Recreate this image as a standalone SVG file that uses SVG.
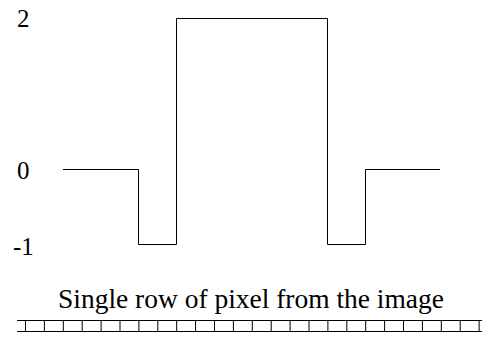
<svg xmlns="http://www.w3.org/2000/svg" width="482" height="341" viewBox="0 0 482 341">
<style>
.t{font-family:"Liberation Serif","Times New Roman",serif;fill:#000}
.ln{fill:none;stroke:#000;stroke-width:1}
</style>
<rect width="482" height="341" fill="#fff"/>
<g id="axis-labels">
<text class="t" x="17" y="26.5" font-size="25">2</text>
<text class="t" x="17" y="178.5" font-size="25">0</text>
<text class="t" x="13" y="254.5" font-size="25">-1</text>
</g>
<g id="signal">
<path class="ln" d="M63,169.5 H138.5 V244.5 H176.5 V18.5 H327.5 V244.5 H365.5 V169.5 H440"/>
</g>
<g id="pixel-row">
<text class="t" x="58" y="308" font-size="27" textLength="386" lengthAdjust="spacingAndGlyphs">Single row of pixel from the image</text>
<path class="ln" d="M17,320.5 H482 M17,331.5 H482 M25.5,320 V332 M44.4,320 V332 M63.3,320 V332 M82.2,320 V332 M101.1,320 V332 M120,320 V332 M138.9,320 V332 M157.8,320 V332 M176.7,320 V332 M195.6,320 V332 M214.5,320 V332 M233.4,320 V332 M252.3,320 V332 M271.2,320 V332 M290.1,320 V332 M309,320 V332 M327.9,320 V332 M346.8,320 V332 M365.7,320 V332 M384.6,320 V332 M403.5,320 V332 M422.4,320 V332 M441.3,320 V332 M460.2,320 V332 M479.1,320 V332"/>
</g>
</svg>
